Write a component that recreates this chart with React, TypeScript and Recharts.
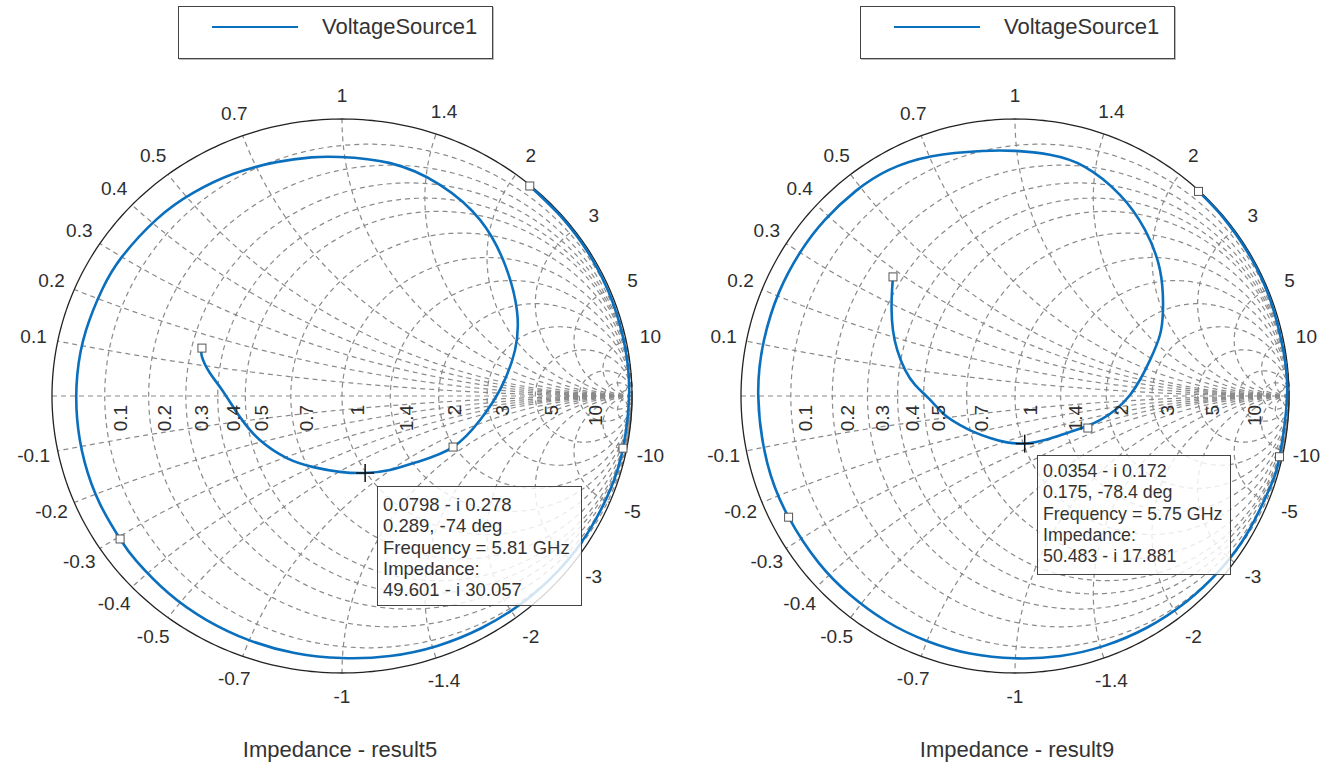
import React from 'react';
import { ComposedChart, Scatter, XAxis, YAxis } from 'recharts';

// ---------- grid / tick values ----------
const RESISTANCE_GRID = [0.1, 0.2, 0.3, 0.4, 0.5, 0.7, 1, 1.4, 2, 3, 5, 10, 20, 50];
const REACTANCE_GRID = [0.1, 0.2, 0.3, 0.4, 0.5, 0.7, 1, 1.4, 2, 3, 5, 10, 20, 50];
const RESISTANCE_TICKS = [0.1, 0.2, 0.3, 0.4, 0.5, 0.7, 1, 1.4, 2, 3, 5, 10];
const REACTANCE_TICKS = [0.1, 0.2, 0.3, 0.4, 0.5, 0.7, 1, 1.4, 2, 3, 5, 10];

// ---------- left trace (result5): reflection coefficient, angle in deg / magnitude ----------
const leftAngles = [49.5, 40, 30, 20, 10, 0, -11, -20, -30, -40, -50, -60, -70, -80, -90, -100, -110, -120, -130, -140, -146, -155, -165, -175, 175, 165, 155, 146.5, 135, 125, 115, 105, 97, 90.5, 78.8, 66.1, 53.1, 40.1, 27.2, 15.5, 2.3, -10.3, -25.7, -42.6, -58.2, -74, -91.5, -111, -130.3, -150.7, -167.8, 177, 169.7, 163.7, 160.3];
const leftMags = [0.997, 0.995, 0.994, 0.993, 0.992, 0.99, 0.987, 0.985, 0.981, 0.977, 0.972, 0.966, 0.96, 0.953, 0.946, 0.942, 0.938, 0.934, 0.93, 0.926, 0.923, 0.921, 0.919, 0.917, 0.916, 0.914, 0.912, 0.91, 0.903, 0.895, 0.885, 0.874, 0.868, 0.863, 0.857, 0.834, 0.794, 0.735, 0.678, 0.619, 0.545, 0.484, 0.425, 0.352, 0.314, 0.289, 0.274, 0.275, 0.294, 0.325, 0.36, 0.414, 0.463, 0.503, 0.513];
const leftMarkerAngles = [49.5, -11, -146, -25.7, 160.3];
const leftMarkerMags = [0.997, 0.987, 0.923, 0.425, 0.513];
const leftCursor = [0.0798, -0.278];
const leftTip = ['0.0798 - i 0.278', '0.289, -74 deg', 'Frequency = 5.81 GHz', 'Impedance:', '49.601 - i 30.057'];

// ---------- right trace (result9) ----------
const rightAngles = [47.8, 40, 30, 20, 10, 0, -12.8, -20, -30, -40, -50, -60, -70, -80, -90, -100, -110, -120, -130, -140, -152.1, -165, 180, 167.5, 156.4, 146.4, 137.5, 128.1, 119.4, 109.3, 97.8, 90, 81.7, 73, 62.2, 51.7, 40.7, 29.9, 22.6, 14.8, 0.5, -15.7, -33, -50, -65, -78.4, -100, -120.9, -140, -152.3, -165, -177.4, 173.7, 166.8, 159, 151.9, 145, 139.5, 136];
const rightMags = [0.997, 0.996, 0.995, 0.994, 0.993, 0.993, 0.99, 0.987, 0.982, 0.977, 0.971, 0.965, 0.959, 0.953, 0.947, 0.944, 0.941, 0.939, 0.937, 0.936, 0.935, 0.936, 0.937, 0.938, 0.939, 0.94, 0.941, 0.941, 0.937, 0.917, 0.893, 0.885, 0.88, 0.866, 0.821, 0.765, 0.698, 0.623, 0.573, 0.51, 0.42, 0.322, 0.239, 0.2, 0.183, 0.175, 0.17, 0.177, 0.2, 0.226, 0.265, 0.31, 0.367, 0.412, 0.46, 0.505, 0.55, 0.59, 0.619];
const rightMarkerAngles = [47.8, -12.8, -152.1, -23.5, 136];
const rightMarkerMags = [0.997, 0.99, 0.935, 0.29, 0.619];
const rightCursor = [0.0354, -0.172];
const rightTip = ['0.0354 - i 0.172', '0.175, -78.4 deg', 'Frequency = 5.75 GHz', 'Impedance:', '50.483 - i 17.881'];

const SERIES_NAME = 'VoltageSource1';
const TITLES = ['Impedance - result5', 'Impedance - result9'];

// ---------- helpers ----------
type Pt = { x: number; y: number; label?: string };
const D2R = Math.PI / 180;
const FONT = '"Liberation Sans", Arial, Helvetica, sans-serif';
const BLUE = '#0a6fbd';
const GRID = '#8a8a8a';
const TXT = '#2e2e2e';

function resistanceCircle(r: number): Pt[] {
  const c = r / (1 + r);
  const rho = 1 / (1 + r);
  const pts: Pt[] = [];
  const n = 360;
  for (let i = 0; i <= n; i++) {
    const p = (2 * Math.PI * i) / n;
    pts.push({ x: c + rho * Math.cos(p), y: rho * Math.sin(p) });
  }
  return pts;
}

function reactanceArc(xv: number): Pt[] {
  const s = Math.sign(xv);
  const ax = Math.abs(xv);
  const rho = 1 / ax;
  const g0x = (ax * ax - 1) / (ax * ax + 1);
  const g0y = (2 * ax) / (ax * ax + 1);
  const phi0 = Math.atan2(g0y - rho, g0x - 1);
  const start = -Math.PI / 2;
  const end = phi0 < start ? phi0 : phi0 - 2 * Math.PI;
  const pts: Pt[] = [];
  const n = 180;
  for (let i = 0; i <= n; i++) {
    const phi = start + ((end - start) * i) / n;
    pts.push({ x: 1 + rho * Math.cos(phi), y: s * (rho + rho * Math.sin(phi)) });
  }
  return pts;
}

function polarPts(angles: number[], mags: number[]): Pt[] {
  return angles.map((a, i) => ({ x: mags[i] * Math.cos(a * D2R), y: mags[i] * Math.sin(a * D2R) }));
}

const unitCircle: Pt[] = resistanceCircle(0);
const axisLine: Pt[] = [{ x: -1, y: 0 }, { x: 1, y: 0 }];
const rTickPts: Pt[] = RESISTANCE_TICKS.map((r) => ({ x: (r - 1) / (r + 1) + 0.055, y: -0.032, label: String(r) }));
const xTickPts: Pt[] = [...REACTANCE_TICKS, ...REACTANCE_TICKS.map((v) => -v)].map((v) => {
  const a = Math.atan2(2 * v, v * v - 1);
  return { x: 1.085 * Math.cos(a), y: 1.085 * Math.sin(a), label: String(v) };
});

const noShape = () => <g />;

const squareShape = (p: any) => (
  <rect x={p.cx - 4} y={p.cy - 4} width={8} height={8} fill="#fff" stroke="#555" strokeWidth={1} />
);
const crossShape = (p: any) => (
  <g stroke="#111" strokeWidth={1.5}>
    <line x1={p.cx - 9} y1={p.cy} x2={p.cx + 9} y2={p.cy} />
    <line x1={p.cx} y1={p.cy - 9} x2={p.cx} y2={p.cy + 9} />
  </g>
);
const rLabelShape = (p: any) => (
  <text
    x={p.cx}
    y={p.cy}
    transform={`rotate(-90 ${p.cx} ${p.cy})`}
    textAnchor="end"
    dominantBaseline="central"
    fontSize={19}
    fontFamily={FONT}
    fill={TXT}
  >
    {p.payload.label}
  </text>
);
const xLabelShape = (p: any) => (
  <text x={p.cx} y={p.cy} textAnchor="middle" dominantBaseline="central" fontSize={19} fontFamily={FONT} fill={TXT}>
    {p.payload.label}
  </text>
);

const H = 769;
const CY = 396;
const RY = 277;

function SmithPanel(props: {
  width: number;
  cxPx: number;
  rx: number;
  angles: number[];
  mags: number[];
  markerAngles: number[];
  markerMags: number[];
  cursor: number[];
}) {
  const { width, cxPx, rx, angles, mags, markerAngles, markerMags, cursor } = props;
  const xDomain = [-cxPx / rx, (width - cxPx) / rx];
  const yDomain = [-(H - CY) / RY, CY / RY];
  const gridLine = { stroke: GRID, strokeWidth: 1.2, strokeDasharray: '5 4', fill: 'none' };
  return (
    <ComposedChart width={width} height={H} margin={{ top: 0, right: 0, bottom: 0, left: 0 }}>
      <XAxis type="number" dataKey="x" domain={xDomain} allowDataOverflow hide />
      <YAxis type="number" dataKey="y" domain={yDomain} allowDataOverflow hide />
      {RESISTANCE_GRID.map((r) => (
        <Scatter key={'r' + r} data={resistanceCircle(r)} line={gridLine} shape={noShape} fill={GRID} isAnimationActive={false} />
      ))}
      {REACTANCE_GRID.map((v) => (
        <Scatter key={'xp' + v} data={reactanceArc(v)} line={gridLine} shape={noShape} fill={GRID} isAnimationActive={false} />
      ))}
      {REACTANCE_GRID.map((v) => (
        <Scatter key={'xn' + v} data={reactanceArc(-v)} line={gridLine} shape={noShape} fill={GRID} isAnimationActive={false} />
      ))}
      <Scatter data={axisLine} line={gridLine} shape={noShape} fill={GRID} isAnimationActive={false} />
      <Scatter data={unitCircle} line={{ stroke: '#222', strokeWidth: 1.3, fill: 'none' }} shape={noShape} fill="#222" isAnimationActive={false} />
      <Scatter
        data={polarPts(angles, mags)}
        line={{ stroke: BLUE, strokeWidth: 2.6, fill: 'none', strokeLinejoin: 'round' }}
        lineJointType="natural"
        shape={noShape}
        fill={BLUE}
        isAnimationActive={false}
      />
      <Scatter data={polarPts(markerAngles, markerMags)} shape={squareShape} isAnimationActive={false} />
      <Scatter data={[{ x: cursor[0], y: cursor[1] }]} shape={crossShape} isAnimationActive={false} />
      <Scatter data={rTickPts} shape={rLabelShape} isAnimationActive={false} />
      <Scatter data={xTickPts} shape={xLabelShape} isAnimationActive={false} />
    </ComposedChart>
  );
}

function LegendBox({ left }: { left: number }) {
  return (
    <div
      style={{
        position: 'absolute',
        left,
        top: 6,
        width: 315,
        height: 53,
        boxSizing: 'border-box',
        border: '1px solid #444',
        boxShadow: '1px 1px 0 #bbb',
        background: '#fff',
      }}
    >
      <div style={{ position: 'absolute', left: 33, top: 19, width: 86, height: 0, borderTop: `2.6px solid ${BLUE}` }} />
      <div
        style={{
          position: 'absolute',
          left: 143,
          top: 7,
          fontFamily: FONT,
          fontSize: 22,
          lineHeight: '26px',
          color: '#333',
          whiteSpace: 'nowrap',
        }}
      >
        {SERIES_NAME}
      </div>
    </div>
  );
}

function DataTip({ left, top, width, lines, fontSize, padTop }: { left: number; top: number; width: number; lines: string[]; fontSize: number; padTop: number }) {
  return (
    <div
      style={{
        position: 'absolute',
        left,
        top,
        width,
        height: 120,
        boxSizing: 'border-box',
        border: '1.5px solid #444',
        background: 'rgba(255,255,255,0.82)',
        padding: `${padTop}px 0 0 5px`,
        fontFamily: FONT,
        fontSize,
        lineHeight: '21.3px',
        color: '#333',
        whiteSpace: 'nowrap',
      }}
    >
      {lines.map((l, i) => (
        <div key={i}>{l}</div>
      ))}
    </div>
  );
}

function Title({ centerX, text }: { centerX: number; text: string }) {
  return (
    <div
      style={{
        position: 'absolute',
        left: centerX - 150,
        width: 300,
        top: 735,
        textAlign: 'center',
        fontFamily: FONT,
        fontSize: 22,
        lineHeight: '30px',
        color: '#333',
      }}
    >
      {text}
    </div>
  );
}

export default function App() {
  return (
    <div style={{ position: 'absolute', left: 0, top: 0, width: 1337, height: 769, background: '#fff', overflow: 'hidden' }}>
      <div style={{ position: 'absolute', left: 0, top: 0 }}>
        <SmithPanel
          width={668}
          cxPx={342}
          rx={290}
          angles={leftAngles}
          mags={leftMags}
          markerAngles={leftMarkerAngles}
          markerMags={leftMarkerMags}
          cursor={leftCursor}
        />
      </div>
      <div style={{ position: 'absolute', left: 668, top: 0 }}>
        <SmithPanel
          width={669}
          cxPx={347}
          rx={274}
          angles={rightAngles}
          mags={rightMags}
          markerAngles={rightMarkerAngles}
          markerMags={rightMarkerMags}
          cursor={rightCursor}
        />
      </div>
      <LegendBox left={178} />
      <LegendBox left={860} />
      <DataTip left={377} top={486} width={205} lines={leftTip} fontSize={18.5} padTop={7} />
      <DataTip left={1037} top={455} width={194} lines={rightTip} fontSize={17.8} padTop={5} />
      <Title centerX={340} text={TITLES[0]} />
      <Title centerX={1017} text={TITLES[1]} />
    </div>
  );
}
